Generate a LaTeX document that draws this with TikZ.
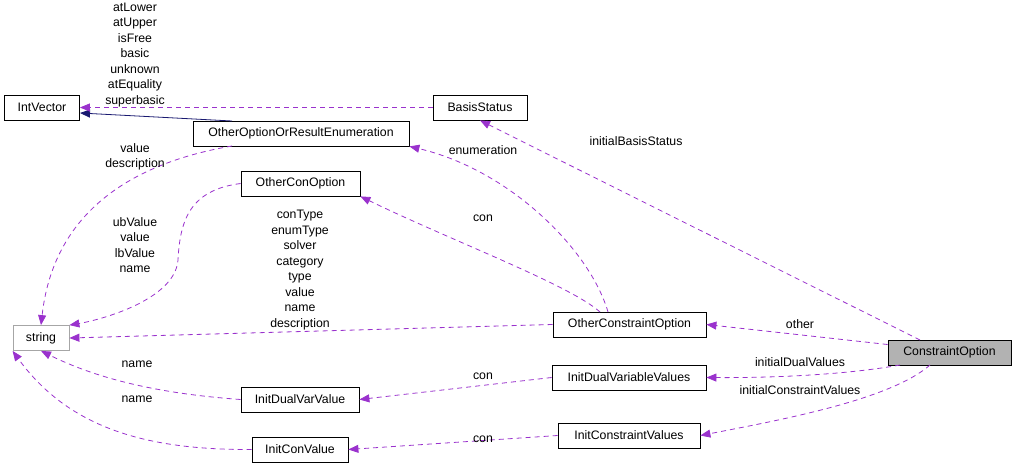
\documentclass[tikz,border=0pt]{standalone}
\usepackage{fontspec}
\setmainfont{Liberation Sans}
\usetikzlibrary{arrows.meta}
\definecolor{pur}{HTML}{9A32CD}
\definecolor{nav}{HTML}{191970}
\begin{document}
\begin{tikzpicture}[x=1pt,y=-1pt,
  box/.style={draw=black,fill=white,minimum height=25pt,inner sep=0pt,line width=0.8pt,font=\fontsize{12.3}{14}\selectfont},
  dep/.style={draw=pur,line width=0.8pt,dash pattern=on 5pt off 4pt,-{Triangle[fill=pur,length=10pt,width=8pt]}},
  inh/.style={draw=nav,line width=0.8pt,-{Triangle[fill=nav,length=10pt,width=8pt]}},
  lab/.style={font=\fontsize{12.3}{15.5}\selectfont,align=center,inner sep=0pt}]
\useasboundingbox (0,0) rectangle (1016,471);
\node[box,minimum width=75pt] (iv) at (42,107.5) {IntVector};
\node[box,minimum width=94pt] (bs) at (480,107.5) {BasisStatus};
\node[box,minimum width=216pt] (oo) at (301,133.5) {OtherOptionOrResultEnumeration};
\node[box,minimum width=119pt] (oc) at (300.5,183.5) {OtherConOption};
\node[box,draw=gray!70,minimum width=56pt] (st) at (41,338) {string};
\node[box,minimum width=153pt] (oco) at (629.5,324.5) {OtherConstraintOption};
\node[box,fill=gray!60,minimum width=123pt] (co) at (949.5,352.5) {ConstraintOption};
\node[box,minimum width=154pt] (idv) at (629,377.5) {InitDualVariableValues};
\node[box,minimum width=118pt] (idvv) at (300,399.5) {InitDualVarValue};
\node[box,minimum width=142pt] (icv) at (629,435.5) {InitConstraintValues};
\node[box,minimum width=96pt] (icvv) at (300,449.5) {InitConValue};

\coordinate (a) at (232,121);
\coordinate (ivr) at (80,113);
\draw[inh] (a) -- (ivr);
\draw[dep] (bs.west) -- (iv.east);
\node[lab] at (135,55) {atLower\\atUpper\\isFree\\basic\\unknown\\atEquality\\superbasic};
\coordinate (b) at (232,146);
\draw[dep] (b) .. controls (150,160) and (55,200) .. (st.north);
\node[lab] at (135,157) {value\\description};
\draw[dep] (oc.west) .. controls (190,190) and (180,220) .. (178,260) .. controls (175,300) and (100,320) .. (st.north east);
\node[lab] at (135,245) {ubValue\\value\\lbValue\\name};
\draw[dep] (oco.west) -- (st.east);
\node[lab] at (300,270) {conType\\enumType\\solver\\category\\type\\value\\name\\description};
\coordinate (c1) at (600,312);
\coordinate (c2) at (608,312);
\draw[dep] (c1) .. controls (570,285) and (450,240) .. (oc.south east);
\node[lab] at (483,218) {con};
\draw[dep] (c2) .. controls (590,250) and (510,170) .. (oo.south east);
\node[lab] at (483,150) {enumeration};
\draw[dep] (idvv.west) .. controls (180,395) and (110,385) .. (st.south);
\node[lab] at (137,364) {name};
\draw[dep] (icvv.west) .. controls (150,450) and (70,430) .. (st.south west);
\node[lab] at (137,399) {name};
\draw[dep] (idv.west) -- (idvv.east);
\node[lab] at (483,376) {con};
\draw[dep] (icv.west) -- (icvv.east);
\node[lab] at (483,439) {con};
\coordinate (d1) at (920,340);
\draw[dep] (d1) -- (bs.south);
\node[lab] at (636,141) {initialBasisStatus};
\draw[dep] (co.west) ++(0,-8) -- (oco.east);
\node[lab] at (800,324) {other};
\coordinate (d2) at (900,365);
\coordinate (d3) at (930,365);
\draw[dep] (d2) .. controls (850,374) and (780,378) .. (idv.east);
\node[lab] at (800,362) {initialDualValues};
\draw[dep] (d3) .. controls (890,400) and (780,420) .. (icv.east);
\node[lab] at (800,390) {initialConstraintValues};
\end{tikzpicture}
\end{document}
